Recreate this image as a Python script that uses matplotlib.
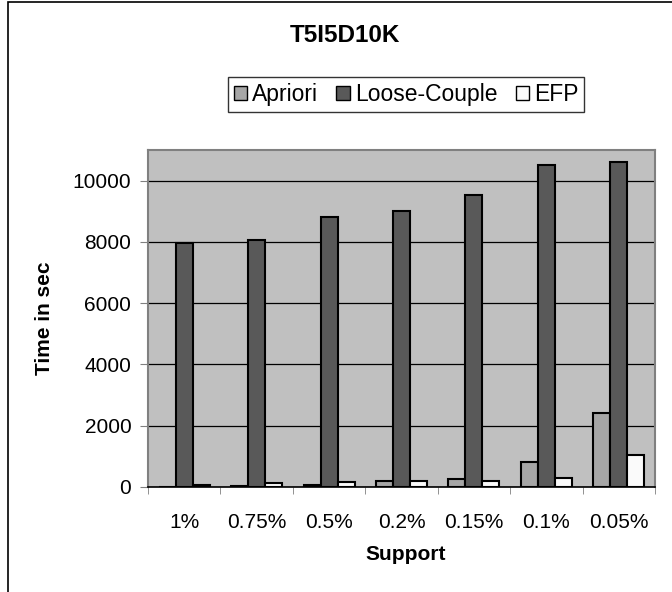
import numpy as np
import matplotlib.pyplot as plt
from matplotlib.patches import Rectangle

plt.rcParams['font.family'] = ['Liberation Sans', 'DejaVu Sans']

supports = ['1%', '0.75%', '0.5%', '0.2%', '0.15%', '0.1%', '0.05%']
apriori = [10, 20, 50, 200, 250, 820, 2400]
loose_couple = [7950, 8060, 8820, 9020, 9540, 10520, 10620]
efp = [80, 130, 150, 190, 200, 300, 1050]

fig = plt.figure(figsize=(6.72, 5.92), dpi=100)
# outer chart frame (cut off on the right and bottom like the original)
fig.patches.append(Rectangle((8 / 672, -0.1), 1.2, 1.1 - 2 / 592, transform=fig.transFigure,
                             fill=False, edgecolor='black', linewidth=1.2))

ax = fig.add_axes([148 / 672, 1 - 487 / 592, (655 - 148) / 672, (487 - 150) / 592])
ax.set_facecolor('#C0C0C0')

x = np.arange(len(supports))
w = 0.235
ax.bar(x - w, apriori, w, color='#A6A6A6', edgecolor='black', linewidth=1.5, label='Apriori', zorder=3)
ax.bar(x, loose_couple, w, color='#595959', edgecolor='black', linewidth=1.5, label='Loose-Couple', zorder=3)
ax.bar(x + w, efp, w, color='#FAFAFA', edgecolor='black', linewidth=1.5, label='EFP', zorder=3)

ax.set_xlim(-0.5, len(supports) - 0.5)
ax.set_ylim(0, 11000)
ax.set_yticks([0, 2000, 4000, 6000, 8000, 10000])
ax.yaxis.grid(True, color='black', linewidth=0.9, zorder=1)
ax.set_axisbelow(True)

ax.set_xticks(x)
ax.set_xticklabels(supports)
ax.set_xticks(np.arange(len(supports) + 1) - 0.5, minor=True)
ax.tick_params(axis='x', which='major', length=0, pad=19, labelsize=15)
ax.tick_params(axis='x', which='minor', length=5, direction='out', color='#808080')
ax.tick_params(axis='y', length=6, direction='out', color='#808080', labelsize=15, pad=6)

for s in ['top', 'right', 'left']:
    ax.spines[s].set_color('#808080')
    ax.spines[s].set_linewidth(1.5)
ax.spines['bottom'].set_color('black')
ax.spines['bottom'].set_linewidth(1.2)

fig.text(406 / 672, 1 - 555 / 592, 'Support', ha='center', va='center', fontsize=15, fontweight='bold')
fig.text(45 / 672, 1 - 318 / 592, 'Time in sec', ha='center', va='center', rotation=90,
         fontsize=15, fontweight='bold')
fig.text(345 / 672, 1 - 35 / 592, 'T5I5D10K', ha='center', va='center', fontsize=17.5, fontweight='bold')

leg = fig.legend(loc='center', bbox_to_anchor=(406 / 672, 1 - 94.5 / 592), ncol=3, fontsize=16.5,
                 frameon=True, fancybox=False, edgecolor='black', handlelength=0.6, handleheight=0.6,
                 handletextpad=0.2, columnspacing=0.8, borderpad=0.25, borderaxespad=0)
leg.get_frame().set_linewidth(1.0)
for h in leg.legend_handles:
    h.set_linewidth(1.0)

fig.savefig('out.png', dpi=100)
